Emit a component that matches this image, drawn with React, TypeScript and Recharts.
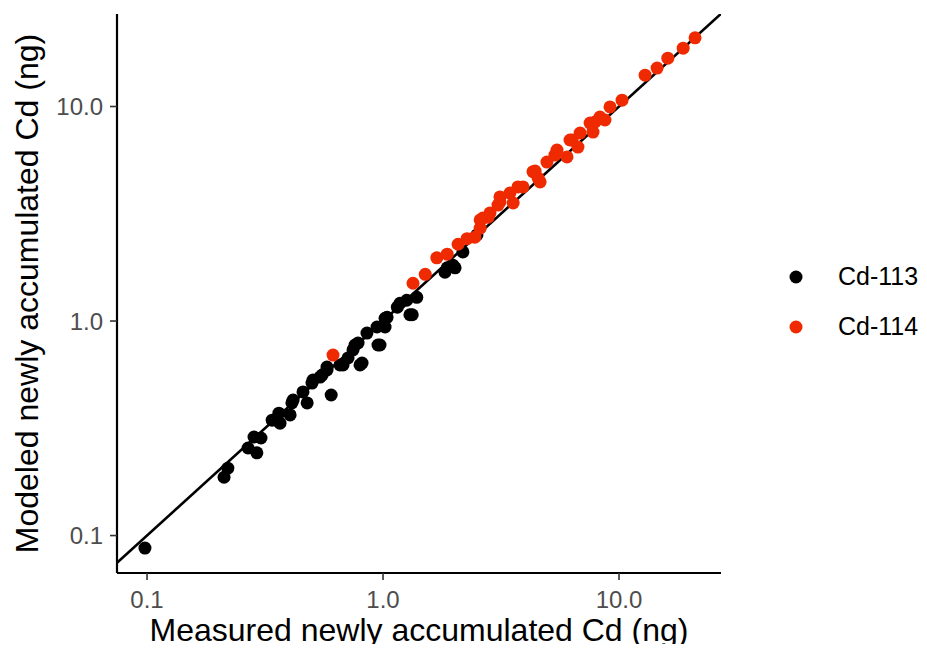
import React from 'react';
import { ScatterChart, Scatter, XAxis, YAxis, ReferenceLine, Label } from 'recharts';

const seriesNames = ['Cd-113', 'Cd-114'];
const seriesColors = ['#000000', '#F02A00'];

const measured113 = [0.098, 0.212, 0.220, 0.268, 0.292, 0.284, 0.304, 0.339, 0.366, 0.362, 0.404, 0.411, 0.416, 0.458, 0.477, 0.500, 0.505, 0.541, 0.552, 0.579, 0.603, 0.579, 0.657, 0.677, 0.711, 0.746, 0.761, 0.784, 0.799, 0.815, 0.855, 0.943, 0.952, 0.971, 1.02, 1.04, 1.02, 1.15, 1.18, 1.26, 1.33, 1.30, 1.39, 1.83, 1.87, 1.98, 2.02, 2.18, 2.50];
const modeled113 = [0.0874, 0.187, 0.206, 0.256, 0.243, 0.288, 0.285, 0.345, 0.334, 0.372, 0.365, 0.415, 0.428, 0.467, 0.415, 0.514, 0.531, 0.548, 0.560, 0.591, 0.452, 0.610, 0.624, 0.624, 0.673, 0.733, 0.773, 0.790, 0.624, 0.637, 0.879, 0.938, 0.773, 0.773, 0.938, 1.04, 1.03, 1.16, 1.21, 1.25, 1.07, 1.07, 1.29, 1.69, 1.77, 1.82, 1.77, 2.10, 2.52];

const measured114 = [0.614, 1.34, 1.51, 1.69, 1.87, 2.08, 2.27, 2.45, 2.58, 2.58, 2.65, 2.79, 2.84, 3.07, 3.13, 3.13, 3.45, 3.56, 3.73, 3.92, 4.32, 4.41, 4.54, 4.63, 4.95, 5.35, 5.46, 6.02, 6.20, 6.32, 6.70, 6.84, 7.54, 7.76, 7.91, 8.30, 8.72, 9.16, 10.3, 12.9, 14.5, 16.1, 18.7, 21.0];
const modeled114 = [0.694, 1.50, 1.65, 1.97, 2.05, 2.28, 2.42, 2.46, 2.71, 2.96, 3.02, 3.05, 3.19, 3.47, 3.59, 3.79, 3.95, 3.55, 4.22, 4.22, 4.97, 5.00, 4.64, 4.45, 5.51, 5.94, 6.27, 5.82, 6.98, 6.98, 6.47, 7.52, 8.37, 7.60, 8.47, 8.93, 8.65, 9.95, 10.7, 14.0, 15.1, 16.8, 18.7, 20.9];

const xTicks = [0.1, 1, 10];
const yTicks = [0.1, 1, 10];
const xDomain = [0.0746, 27.05];
const yDomain = [0.0669, 26.99];
const xTitle = 'Measured newly accumulated Cd (ng)';
const yTitle = 'Modeled newly accumulated Cd (ng)';

const data113 = measured113.map((x, i) => ({ x, y: modeled113[i] }));
const data114 = measured114.map((x, i) => ({ x, y: modeled114[i] }));

const FONT = '"Liberation Sans", Arial, Helvetica, sans-serif';

const dot = (color: string) => (props: any) => (
  <circle cx={props.cx} cy={props.cy} r={6.5} fill={color} />
);

const fmt = (v: number) => v.toFixed(1);

export default function App() {
  return (
    <div style={{ position: 'relative', width: 927, height: 652, marginTop: -8, marginLeft: -8, marginBottom: -8, fontFamily: FONT }}>
      <ScatterChart width={927} height={652} margin={{ top: 14, right: 206, bottom: 0, left: 0 }} style={{ fontFamily: FONT }}>
        <XAxis
          type="number"
          dataKey="x"
          scale="log"
          domain={xDomain}
          allowDataOverflow
          ticks={xTicks}
          tickFormatter={fmt}
          height={79}
          axisLine={{ stroke: '#000', strokeWidth: 2.2 }}
          tickLine={{ stroke: '#333', strokeWidth: 1.6 }}
          tickSize={7}
          tickMargin={11}
          tick={{ fontSize: 24, fill: '#4d4d4d', fontFamily: FONT }}
        >
          <Label
            content={(p: any) => {
              const vb = p.viewBox;
              return (
                <text x={vb.x + vb.width / 2} y={641} textAnchor="middle" fontSize={32} fill="#000" fontFamily={FONT}>
                  {xTitle}
                </text>
              );
            }}
          />
        </XAxis>
        <YAxis
          type="number"
          dataKey="y"
          scale="log"
          domain={yDomain}
          allowDataOverflow
          ticks={yTicks}
          tickFormatter={fmt}
          width={117}
          axisLine={{ stroke: '#000', strokeWidth: 2.2 }}
          tickLine={{ stroke: '#333', strokeWidth: 1.6 }}
          tickSize={7}
          tickMargin={7}
          tick={{ fontSize: 24, fill: '#4d4d4d', fontFamily: FONT }}
        >
          <Label
            content={(p: any) => {
              const vb = p.viewBox;
              const cy = vb.y + vb.height / 2;
              return (
                <text x={38} y={cy} transform={`rotate(-90, 38, ${cy})`} textAnchor="middle" fontSize={32} fill="#000" fontFamily={FONT}>
                  {yTitle}
                </text>
              );
            }}
          />
        </YAxis>
        <Scatter name={seriesNames[0]} data={data113} fill={seriesColors[0]} shape={dot(seriesColors[0])} isAnimationActive={false} />
        <Scatter name={seriesNames[1]} data={data114} fill={seriesColors[1]} shape={dot(seriesColors[1])} isAnimationActive={false} />
        <ReferenceLine
          segment={[{ x: xDomain[0], y: xDomain[0] }, { x: 30, y: 30 }]}
          stroke="#000"
          strokeWidth={2.6}
          ifOverflow="hidden"
        />
      </ScatterChart>
      <svg width={140} height={100} style={{ position: 'absolute', left: 783, top: 252 }}>
        {seriesNames.map((n, i) => (
          <g key={n}>
            <circle cx={13} cy={25 + i * 50} r={6.5} fill={seriesColors[i]} />
            <text x={55} y={33 + i * 50} fontSize={25} fill="#000" fontFamily={FONT}>{n}</text>
          </g>
        ))}
      </svg>
    </div>
  );
}
